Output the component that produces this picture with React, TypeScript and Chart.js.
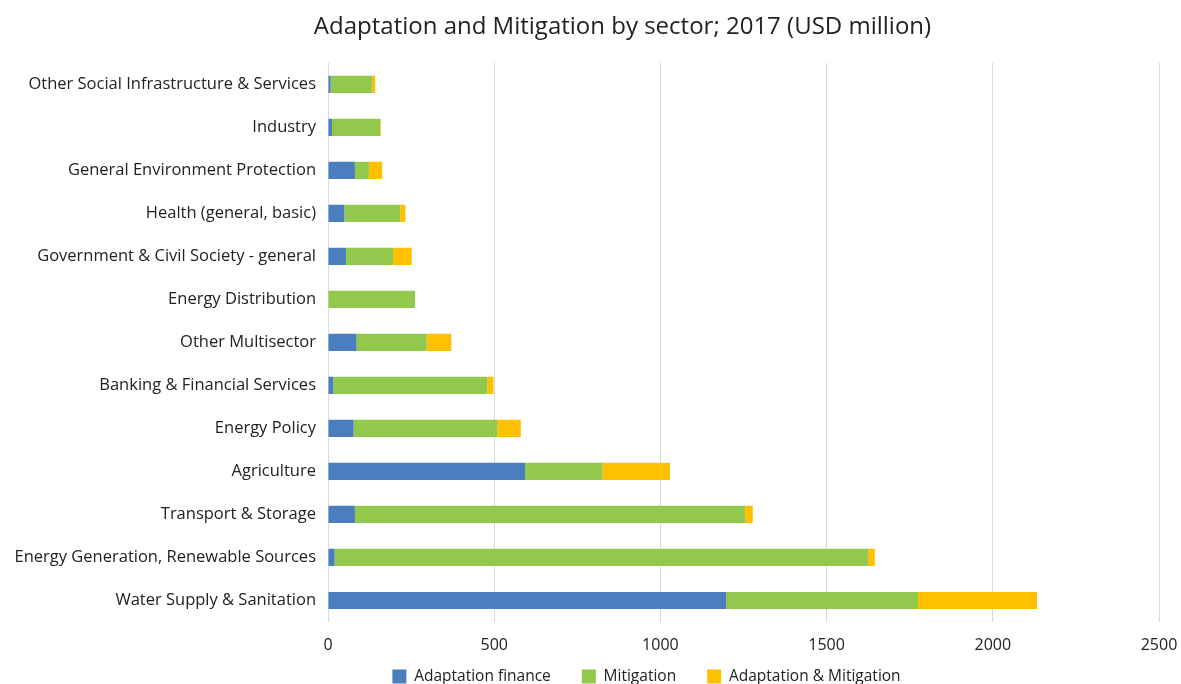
import React, { useEffect, useRef } from "react";
import { Chart, registerables } from "chart.js";

Chart.register(...registerables);

const categories = [
  "Other Social Infrastructure & Services",
  "Industry",
  "General Environment Protection",
  "Health (general, basic)",
  "Government & Civil Society - general",
  "Energy Distribution",
  "Other Multisector",
  "Banking & Financial Services",
  "Energy Policy",
  "Agriculture",
  "Transport & Storage",
  "Energy Generation, Renewable Sources",
  "Water Supply & Sanitation",
];

const adaptationFinance = [8, 12, 81, 49, 54, 0, 86, 16, 77, 593, 81, 20, 1198];
const mitigation = [125, 145, 42, 168, 142, 262, 211, 463, 433, 233, 1174, 1605, 577];
const adaptationAndMitigation = [9, 2, 40, 16, 56, 0, 74, 19, 70, 203, 23, 20, 358];

const xTicks = [0, 500, 1000, 1500, 2000, 2500];

const FONT = "'Open Sans', 'Liberation Sans', sans-serif";
const TEXT = "#222222";

const LEGEND_PAD = 31;
const LEGEND_FONT = 15.5;
const LEGEND_Y = 676.5;
const X_AXIS_H = 33;
const LEGEND_H = 29;

const boxShift = {
  id: "boxShift",
  afterLayout(chart: any) {
    const lg = chart.legend;
    if (lg) {
      const dx = 67;
      lg.left += dx;
      lg.right += dx;
      lg.top = LEGEND_Y - LEGEND_PAD - LEGEND_FONT / 2;
      lg.bottom = lg.top + 70;
      lg.height = 70;
    }
    const t = chart.titleBlock;
    if (t) {
      t.left += 43;
      t.right += 43;
    }
  },
};

export default function App() {
  const ref = useRef<HTMLCanvasElement | null>(null);

  useEffect(() => {
    document.body.style.margin = "0";
    const canvas = ref.current;
    if (!canvas) return;
    const chart = new Chart(canvas, {
      type: "bar",
      data: {
        labels: categories,
        datasets: [
          { label: "Adaptation finance", data: adaptationFinance, backgroundColor: "#4a7ebf" },
          { label: "Mitigation", data: mitigation, backgroundColor: "#92c84b" },
          { label: "Adaptation & Mitigation", data: adaptationAndMitigation, backgroundColor: "#ffc000" },
        ],
      },
      plugins: [boxShift],
      options: {
        indexAxis: "y",
        responsive: false,
        animation: false,
        maintainAspectRatio: false,
        layout: { padding: { left: 0, right: 22, top: 0, bottom: 0 } },
        datasets: { bar: { barPercentage: 0.4, categoryPercentage: 1 } },
        plugins: {
          title: {
            display: true,
            text: "Adaptation and Mitigation by sector; 2017 (USD million)",
            color: TEXT,
            font: { family: FONT, size: 24, weight: "normal", lineHeight: 1.2 },
            padding: { top: 13, bottom: 21 },
          },
          legend: {
            position: "bottom",
            maxHeight: LEGEND_H,
            labels: {
              color: TEXT,
              font: { family: FONT, size: LEGEND_FONT },
              boxWidth: 14,
              boxHeight: 14,
              padding: LEGEND_PAD,
            },
          },
          tooltip: { enabled: false },
        },
        scales: {
          x: {
            stacked: true,
            min: 0,
            max: 2500,
            afterBuildTicks: (s: any) => {
              s.ticks = xTicks.map((v) => ({ value: v }));
            },
            afterFit: (s: any) => {
              s.height = X_AXIS_H;
              s.paddingLeft = 0;
              s.paddingRight = 0;
            },
            grid: { color: "#d9d9d9", drawTicks: false, lineWidth: 1 },
            border: { display: false },
            ticks: {
              color: TEXT,
              font: { family: FONT, size: 16, lineHeight: 1.2 },
              padding: 13.5,
              callback: (v: any) => String(v),
            },
          },
          y: {
            stacked: true,
            grid: { display: false, drawTicks: false },
            border: { display: false },
            afterFit: (s: any) => {
              s.width = 328;
            },
            ticks: {
              color: TEXT,
              font: { family: FONT, size: 16.5 },
              padding: 12,
              autoSkip: false,
            },
          },
        },
      },
    });
    return () => chart.destroy();
  }, []);

  return (
    <div style={{ width: 1181, height: 684, background: "#fff" }}>
      <canvas ref={ref} width={1181} height={684} style={{ display: "block" }} />
    </div>
  );
}
